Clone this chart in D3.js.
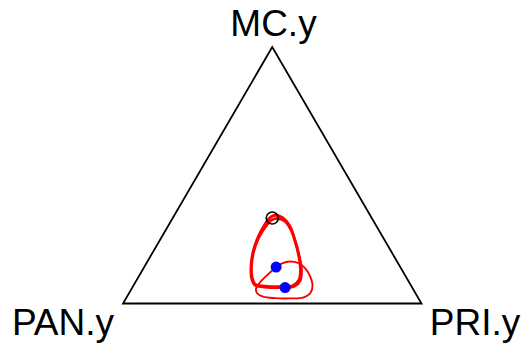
<!DOCTYPE html>
<html>
<head>
<meta charset="utf-8">
<script src="https://cdn.jsdelivr.net/npm/d3@7"></script>
<style>
  html, body { margin: 0; padding: 0; background: #fff; }
  svg { display: block; }
  text { font-family: "Liberation Sans", Arial, Helvetica, sans-serif; fill: #000; }
</style>
</head>
<body>
<svg id="chart" width="525" height="346"></svg>
<script>
// Compositions are [PAN.y, PRI.y, MC.y]
const vertexLabels = ["PAN.y", "PRI.y", "MC.y"];

// Means of the two groups
const groupMeans = [
  [0.416, 0.442, 0.142],
  [0.426, 0.512, 0.062]
];

// Barycentre of the simplex
const centre = [[0.3333, 0.3333, 0.3333]];

// Confidence regions (traced boundaries)
const regionA = [
  [0.319, 0.337, 0.344], [0.297, 0.369, 0.333], [0.290, 0.408, 0.302],
  [0.300, 0.452, 0.248], [0.316, 0.495, 0.189], [0.337, 0.533, 0.131],
  [0.363, 0.549, 0.088], [0.394, 0.540, 0.066], [0.443, 0.495, 0.062],
  [0.492, 0.444, 0.064], [0.522, 0.406, 0.072], [0.520, 0.381, 0.099],
  [0.498, 0.356, 0.146], [0.464, 0.335, 0.201], [0.418, 0.323, 0.259],
  [0.369, 0.321, 0.310], [0.340, 0.325, 0.335]
];
const regionB = [
  [0.313, 0.355, 0.331], [0.297, 0.383, 0.320], [0.294, 0.420, 0.286],
  [0.304, 0.460, 0.236], [0.320, 0.499, 0.181], [0.340, 0.529, 0.131],
  [0.365, 0.544, 0.092], [0.395, 0.534, 0.070], [0.441, 0.493, 0.066],
  [0.490, 0.442, 0.068], [0.520, 0.404, 0.076], [0.516, 0.381, 0.103],
  [0.496, 0.357, 0.146], [0.462, 0.337, 0.201], [0.415, 0.326, 0.259],
  [0.370, 0.328, 0.302], [0.338, 0.336, 0.326]
];
const regionC = [
  [0.359, 0.478, 0.164], [0.335, 0.507, 0.158], [0.321, 0.541, 0.138],
  [0.320, 0.573, 0.107], [0.329, 0.599, 0.072], [0.352, 0.608, 0.041],
  [0.385, 0.591, 0.023], [0.431, 0.550, 0.020], [0.480, 0.499, 0.021],
  [0.517, 0.455, 0.027], [0.531, 0.428, 0.041], [0.526, 0.417, 0.057],
  [0.505, 0.417, 0.078], [0.467, 0.426, 0.107], [0.427, 0.439, 0.135],
  [0.389, 0.455, 0.156]
];

const svg = d3.select("#chart");

// Triangle in unit coordinates: PAN (0,0), PRI (1,0), MC (0.5, h)
const h = Math.sqrt(3) / 2;
const x = d3.scaleLinear().domain([0, 1]).range([123, 421.5]);
const y = d3.scaleLinear().domain([0, h]).range([303.5, 47]);

function project(c) {
  const s = c[0] + c[1] + c[2];
  const pri = c[1] / s, mc = c[2] / s;
  return [x(pri + mc / 2), y(mc * h)];
}

// Simplex outline
const corners = [[1, 0, 0], [0, 1, 0], [0, 0, 1]];
svg.append("path")
  .attr("d", d3.line()(corners.map(project)) + "Z")
  .attr("fill", "none")
  .attr("stroke", "#000")
  .attr("stroke-width", 1.8)
  .attr("stroke-linejoin", "miter");

// Vertex labels
const labelPos = [
  { x: 63, y: 335, anchor: "middle" },
  { x: 475, y: 335, anchor: "middle" },
  { x: 273.5, y: 36, anchor: "middle" }
];
svg.selectAll("text.vertex")
  .data(vertexLabels)
  .join("text")
  .attr("class", "vertex")
  .attr("x", (d, i) => labelPos[i].x)
  .attr("y", (d, i) => labelPos[i].y)
  .attr("text-anchor", (d, i) => labelPos[i].anchor)
  .attr("font-size", 37)
  .text(d => d);

// Confidence regions
const closedCurve = d3.line().curve(d3.curveCatmullRomClosed.alpha(0.5));
const regions = [
  { pts: regionA, w: 2.8 },
  { pts: regionB, w: 2.8 },
  { pts: regionC, w: 1.9 }
];
svg.selectAll("path.region")
  .data(regions)
  .join("path")
  .attr("class", "region")
  .attr("d", d => closedCurve(d.pts.map(project)))
  .attr("fill", "none")
  .attr("stroke", "#ff0000")
  .attr("stroke-width", d => d.w);

// Barycentre marker
svg.selectAll("circle.centre")
  .data(centre)
  .join("circle")
  .attr("class", "centre")
  .attr("cx", d => project(d)[0])
  .attr("cy", d => project(d)[1])
  .attr("r", 6)
  .attr("fill", "none")
  .attr("stroke", "#000")
  .attr("stroke-width", 1.6);

// Group means
svg.selectAll("circle.mean")
  .data(groupMeans)
  .join("circle")
  .attr("class", "mean")
  .attr("cx", d => project(d)[0])
  .attr("cy", d => project(d)[1])
  .attr("r", 5.5)
  .attr("fill", "#0000ff");
</script>
</body>
</html>
